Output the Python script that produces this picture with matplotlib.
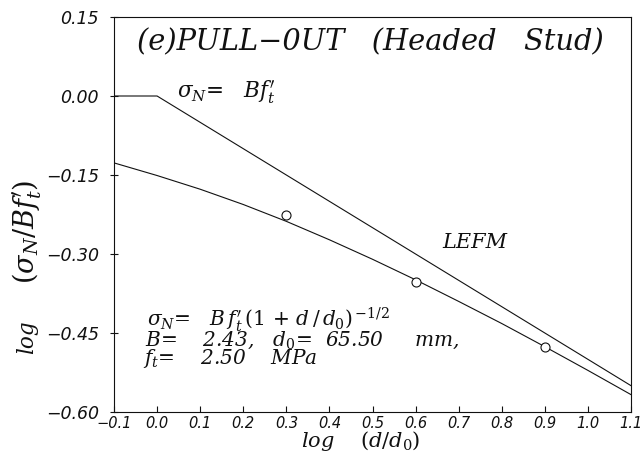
import matplotlib
matplotlib.use("Agg")
import matplotlib.pyplot as plt
from matplotlib.ticker import FixedLocator, FuncFormatter

plt.rcParams['mathtext.fontset'] = 'dejavuserif'
plt.rcParams['font.family'] = ['DejaVu Serif']

# Strength criterion line (log sigma_N/Bf't = 0, then slope -1/2)
strength_x = [-0.10, 0.00, 1.10]
strength_y = [0.000, 0.000, -0.550]

# LEFM / size-effect curve
lefm_x = [-0.10, 0.00, 0.10, 0.20, 0.30, 0.40, 0.50, 0.60, 0.70, 0.80, 0.90, 1.00, 1.10]
lefm_y = [-0.127, -0.151, -0.177, -0.206, -0.238, -0.273, -0.310, -0.349, -0.390, -0.432, -0.476, -0.521, -0.567]

# Test data (open circles)
data_x = [0.30, 0.60, 0.90]
data_y = [-0.226, -0.354, -0.476]

xticks = [-0.1, 0.0, 0.1, 0.2, 0.3, 0.4, 0.5, 0.6, 0.7, 0.8, 0.9, 1.0, 1.1]
yticks = [0.15, 0.00, -0.15, -0.30, -0.45, -0.60]

W, H = 644, 468
fig = plt.figure(figsize=(W / 100, H / 100), dpi=100)
L, R, T, B = 114, 631, 17, 412
ax = fig.add_axes([L / W, 1 - B / H, (R - L) / W, (B - T) / H])

lc = '#111111'
ax.plot(strength_x, strength_y, color=lc, lw=0.8)
ax.plot(lefm_x, lefm_y, color=lc, lw=0.8)
ax.plot(data_x, data_y, 'o', ms=6.5, mfc='white', mec=lc, mew=0.8)

ax.set_xlim(-0.1, 1.1)
ax.set_ylim(-0.6, 0.15)
ax.xaxis.set_major_locator(FixedLocator(xticks))
ax.yaxis.set_major_locator(FixedLocator(yticks))
ax.xaxis.set_major_formatter(FuncFormatter(lambda v, p: f"{v:.1f}".replace('-', '\u2212')))
ax.yaxis.set_major_formatter(FuncFormatter(lambda v, p: f"{v:.2f}".replace('-', '\u2212')))
ax.tick_params(axis='x', direction='in', length=4, width=0.8, pad=3, colors=lc)
ax.tick_params(axis='y', direction='inout', length=6, width=0.8, pad=8, colors=lc)
for lab in ax.get_xticklabels():
    lab.set_family('DejaVu Sans')
    lab.set_fontstyle('oblique')
    lab.set_fontsize(10.5)
for lab in ax.get_yticklabels():
    lab.set_family('DejaVu Sans')
    lab.set_fontstyle('oblique')
    lab.set_fontsize(12.5)
for s in ax.spines.values():
    s.set_linewidth(0.8)
    s.set_color(lc)

def px2data(px, py):
    return (-0.1 + (px - L) / (R - L) * 1.2, 0.15 - (py - T) / (B - T) * 0.75)

def put(px, py, s, size, **kw):
    x, y = px2data(px, py)
    ax.text(x, y, s, fontsize=size, fontstyle='italic', ha='left', va='baseline',
            color=lc, **kw)

put(137, 50, "(e)PULL\u22120UT   (Headed   Stud)", 20.8)
put(177, 98, r"$\sigma_N$=   B$f^{\prime}_t$", 15.5)
put(442, 248, "LEFM", 15)

put(147, 326, r"$\sigma_N$=   B$\,f^{\prime}_t\,(\mathit{1}\,+\,d\,/\,d_0)^{\,\mathit{-1/2}}$", 14.5)
put(145, 346, r"B=    2.43,   $d_0$=  65.50     mm,", 14.5)
put(143, 364, r"$f_t$=    2.50    MPa", 14.5)

fig.text(361 / W, 1 - 447 / H, r"log    $(d/d_0)$", fontsize=15, fontstyle='italic',
         ha='center', va='baseline', color=lc)
fig.text(27 / W, 1 - 337 / H, "log", fontsize=15.5,
         fontstyle='italic', rotation=90, ha='center', va='center', color=lc)
fig.text(27 / W, 1 - 232 / H, r"$(\sigma_N/Bf^{\prime}_t)$", fontsize=19.5,
         rotation=90, ha='center', va='center', color=lc)

fig.savefig("out.png", dpi=100, facecolor='white')
